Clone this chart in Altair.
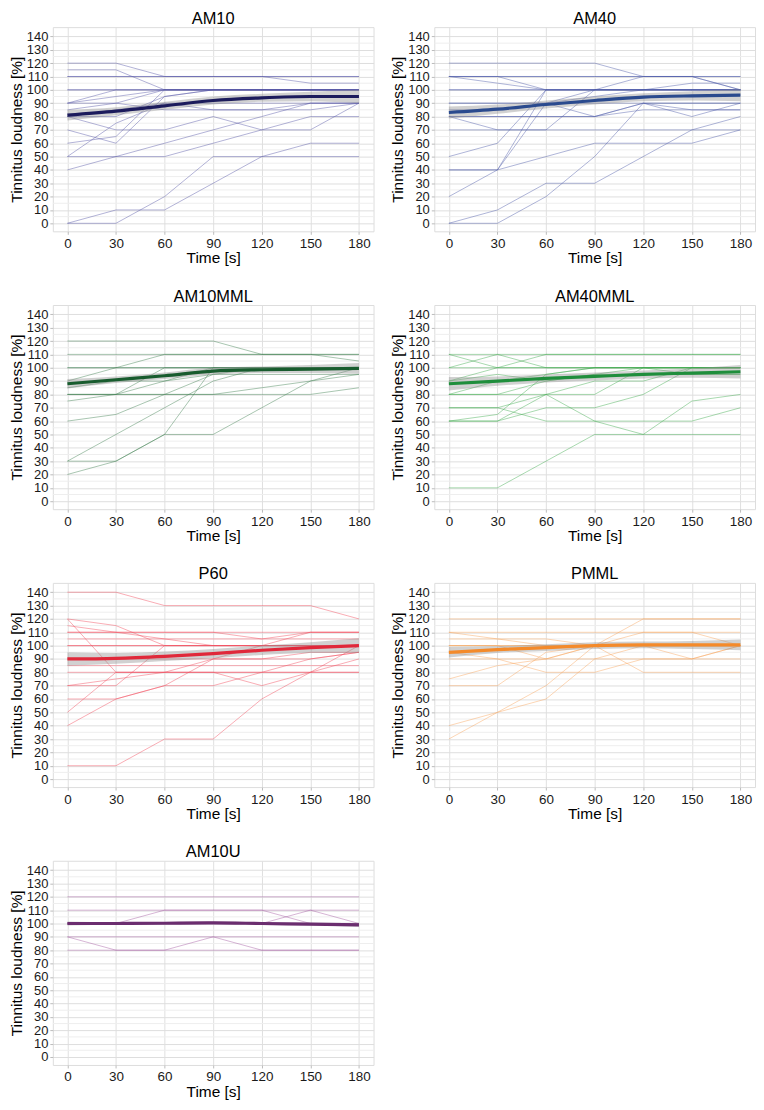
import altair as alt
import pandas as pd

times = [0, 30, 60, 90, 120, 150, 180]
y_ticks = list(range(0, 145, 10))
y_minor = list(range(5, 145, 10))

am10_subjects = [
    [120, 120, 110, 110, 110, 110, 110],
    [115, 115, 100, 100, 100, 100, 100],
    [110, 110, 110, 110, 110, 105, 105],
    [110, 110, 110, 110, 110, 110, 110],
    [100, 100, 100, 100, 100, 100, 100],
    [100, 100, 100, 100, 100, 100, 100],
    [90, 100, 100, 100, 100, 100, 100],
    [90, 95, 100, 100, 100, 100, 100],
    [85, 90, 100, 100, 100, 100, 100],
    [80, 80, 95, 100, 100, 100, 100],
    [80, 85, 90, 90, 90, 90, 90],
    [70, 60, 95, 100, 100, 100, 100],
    [60, 65, 100, 100, 100, 100, 100],
    [80, 70, 70, 80, 70, 70, 90],
    [90, 90, 85, 85, 85, 85, 90],
    [50, 75, 90, 85, 85, 90, 90],
    [40, 50, 60, 70, 80, 90, 90],
    [50, 50, 50, 60, 70, 80, 80],
    [0, 10, 10, 30, 50, 60, 60],
    [0, 0, 20, 50, 50, 50, 50],
]
am10_mean = [81, 84, 88, 92, 94, 95, 95]
am10_half = [4, 3, 3, 3, 3, 3.5, 5]

am40_subjects = [
    [120, 120, 120, 120, 110, 110, 100],
    [110, 110, 110, 110, 110, 110, 110],
    [110, 110, 110, 110, 110, 110, 110],
    [110, 105, 100, 100, 110, 110, 100],
    [110, 110, 100, 100, 100, 105, 105],
    [100, 100, 100, 100, 100, 100, 100],
    [100, 100, 100, 100, 100, 100, 100],
    [90, 90, 90, 90, 90, 90, 90],
    [90, 90, 90, 80, 90, 90, 90],
    [85, 85, 90, 95, 100, 100, 100],
    [80, 80, 80, 80, 90, 80, 90],
    [80, 70, 70, 100, 100, 100, 100],
    [70, 70, 70, 70, 70, 70, 70],
    [50, 60, 100, 100, 100, 100, 100],
    [40, 40, 100, 100, 100, 100, 100],
    [40, 40, 50, 60, 60, 60, 70],
    [20, 40, 90, 100, 100, 100, 100],
    [0, 10, 30, 30, 50, 70, 80],
    [0, 0, 20, 50, 90, 85, 85],
    [80, 80, 80, 80, 85, 85, 85],
]
am40_mean = [83, 85.5, 89, 92, 94.5, 95.5, 96]
am40_half = [4.5, 3.5, 3, 3, 3, 3.5, 4.5]

am10mml_subjects = [
    [120, 120, 120, 120, 110, 110, 105],
    [110, 110, 110, 110, 110, 110, 110],
    [90, 100, 110, 110, 110, 110, 110],
    [100, 100, 100, 100, 100, 100, 100],
    [100, 100, 100, 100, 100, 100, 100],
    [85, 90, 90, 100, 100, 100, 100],
    [80, 80, 100, 100, 100, 100, 100],
    [75, 80, 90, 95, 95, 95, 95],
    [80, 80, 80, 80, 80, 80, 85],
    [60, 65, 80, 95, 100, 100, 100],
    [30, 50, 70, 90, 100, 100, 100],
    [30, 30, 50, 50, 70, 90, 100],
    [20, 30, 50, 100, 100, 100, 100],
    [80, 80, 80, 80, 85, 90, 95],
]
am10mml_mean = [88, 91, 94, 97.5, 98.5, 99, 99.5]
am10mml_half = [3.5, 2.5, 2.5, 2.5, 2.5, 3, 4]

am40mml_subjects = [
    [110, 110, 110, 110, 110, 110, 110],
    [110, 100, 100, 100, 100, 100, 100],
    [90, 100, 110, 110, 110, 110, 110],
    [100, 110, 100, 100, 100, 100, 100],
    [100, 100, 100, 100, 100, 100, 100],
    [90, 95, 90, 95, 100, 95, 95],
    [80, 80, 80, 80, 100, 100, 100],
    [80, 90, 95, 100, 100, 100, 100],
    [70, 70, 60, 60, 60, 60, 70],
    [60, 60, 80, 60, 50, 75, 80],
    [60, 65, 95, 100, 100, 100, 100],
    [60, 60, 70, 70, 80, 100, 100],
    [70, 70, 80, 90, 90, 100, 100],
    [10, 10, 30, 50, 50, 50, 50],
    [80, 80, 90, 95, 95, 95, 95],
]
am40mml_mean = [88, 90, 92, 93.5, 95, 96, 97]
am40mml_half = [5, 3.5, 3, 3, 3, 3.5, 5]

p60_subjects = [
    [140, 140, 130, 130, 130, 130, 120],
    [120, 80, 80, 80, 80, 80, 80],
    [120, 115, 100, 100, 100, 100, 100],
    [115, 110, 105, 100, 100, 100, 100],
    [110, 110, 110, 110, 110, 110, 110],
    [105, 105, 105, 105, 105, 105, 105],
    [100, 100, 100, 100, 100, 100, 100],
    [100, 100, 100, 100, 100, 100, 100],
    [90, 90, 90, 90, 90, 90, 95],
    [85, 85, 85, 85, 85, 85, 85],
    [80, 80, 80, 80, 80, 80, 80],
    [70, 70, 100, 100, 100, 110, 110],
    [70, 75, 80, 80, 70, 80, 90],
    [60, 60, 70, 90, 100, 100, 100],
    [50, 80, 80, 90, 90, 95, 95],
    [40, 60, 70, 70, 80, 90, 95],
    [10, 10, 30, 30, 60, 80, 100],
    [110, 110, 110, 110, 105, 110, 110],
]
p60_mean = [90, 90.5, 92, 94, 96.5, 98.5, 100]
p60_half = [5, 4, 3.5, 3.5, 3.5, 4, 5.5]

pmml_subjects = [
    [120, 120, 120, 120, 120, 120, 120],
    [110, 105, 105, 100, 110, 110, 100],
    [110, 110, 110, 110, 110, 110, 110],
    [105, 105, 100, 100, 100, 100, 100],
    [100, 100, 100, 100, 100, 100, 100],
    [100, 100, 100, 100, 100, 100, 100],
    [90, 90, 90, 90, 90, 90, 90],
    [95, 90, 80, 80, 90, 90, 100],
    [75, 85, 90, 100, 100, 100, 100],
    [70, 70, 95, 100, 100, 90, 100],
    [40, 50, 70, 100, 120, 120, 120],
    [30, 50, 60, 90, 100, 100, 100],
    [100, 100, 90, 100, 80, 80, 80],
]
pmml_mean = [95, 97, 98.5, 100, 100.5, 100.5, 100.5]
pmml_half = [4, 2.5, 2.5, 2.5, 2.5, 3, 4]

am10u_subjects = [
    [120, 120, 120, 120, 120, 120, 120],
    [110, 110, 110, 110, 110, 110, 110],
    [100, 100, 110, 110, 110, 100, 100],
    [100, 100, 100, 100, 100, 110, 100],
    [100, 100, 100, 100, 100, 100, 100],
    [90, 90, 90, 90, 90, 90, 90],
    [90, 80, 80, 90, 80, 80, 80],
    [80, 80, 80, 80, 80, 80, 80],
]
am10u_mean = [100, 100, 100.2, 100.5, 100, 99.5, 99]
am10u_half = [1.5, 1, 1, 1, 1, 1, 1.5]

# name, mean colour, subject-line colour
panels = [
    ("AM10", "#1c1b5c", "#5656a6", am10_subjects, am10_mean, am10_half),
    ("AM40", "#2a4a8e", "#4c5aa8", am40_subjects, am40_mean, am40_half),
    ("AM10MML", "#185c2e", "#3f7f50", am10mml_subjects, am10mml_mean, am10mml_half),
    ("AM40MML", "#1f8e3c", "#3cab4c", am40mml_subjects, am40mml_mean, am40mml_half),
    ("P60", "#e0283a", "#f2485a", p60_subjects, p60_mean, p60_half),
    ("PMML", "#f48a2a", "#f8a45a", pmml_subjects, pmml_mean, pmml_half),
    ("AM10U", "#6b2d6f", "#a45aa0", am10u_subjects, am10u_mean, am10u_half),
]

FONT = "Liberation Sans"
W, H = 322, 205

x_scale = alt.Scale(domain=[-9, 189], nice=False, zero=False)
y_scale = alt.Scale(domain=[-6, 147], nice=False, zero=False)

x_axis = alt.Axis(values=times, title="Time [s]", grid=True, gridColor="#e0e0e0",
                  labelFontSize=13.5, titleFontSize=15.5, tickColor="#bbbbbb", tickSize=3,
                  labelPadding=2, titlePadding=1, domain=False, labelColor="#1a1a1a",
                  titleColor="#000000", titleFontWeight="normal", labelFont=FONT, titleFont=FONT)
y_axis = alt.Axis(values=y_ticks, title="Tinnitus loudness [%]", grid=True,
                  gridColor="#dedede", tickColor="#bbbbbb", tickSize=3,
                  labelOverlap=False, labelFontSize=13, titleFontSize=15.5,
                  labelPadding=2, titlePadding=2, domain=False, labelColor="#1a1a1a",
                  titleColor="#000000", titleFontWeight="normal", labelFont=FONT, titleFont=FONT)

minor_df = pd.DataFrame({"v": y_minor})


def make_panel(name, color, lcolor, subjects, mean, half):
    rows = []
    for i, subj in enumerate(subjects):
        for t, v in zip(times, subj):
            rows.append({"time": t, "value": v, "subject": i})
    sdf = pd.DataFrame(rows)
    mdf = pd.DataFrame({
        "time": times,
        "mean": mean,
        "lo": [m - h for m, h in zip(mean, half)],
        "hi": [m + h for m, h in zip(mean, half)],
    })
    minor = alt.Chart(minor_df).mark_rule(color="#eeeeee", strokeWidth=1).encode(
        y=alt.Y("v:Q", scale=y_scale, axis=y_axis),
    )
    lines = alt.Chart(sdf).mark_line(color=lcolor, strokeWidth=1, opacity=0.45).encode(
        x=alt.X("time:Q", scale=x_scale, axis=x_axis),
        y=alt.Y("value:Q", scale=y_scale, axis=y_axis),
        detail="subject:N",
    )
    band = alt.Chart(mdf).mark_area(color="#8c8c8c", opacity=0.4, interpolate="monotone").encode(
        x=alt.X("time:Q", scale=x_scale, axis=x_axis),
        y=alt.Y("lo:Q", scale=y_scale, axis=y_axis),
        y2="hi:Q",
    )
    mline = alt.Chart(mdf).mark_line(color=color, strokeWidth=3.2, interpolate="monotone").encode(
        x=alt.X("time:Q", scale=x_scale, axis=x_axis),
        y=alt.Y("mean:Q", scale=y_scale, axis=y_axis),
    )
    return alt.layer(minor, lines, band, mline).properties(
        width=W, height=H,
        title=alt.TitleParams(text=name, fontSize=16.5, font=FONT, fontWeight="normal",
                              color="#000000", offset=0),
    )


charts = [make_panel(*p) for p in panels]
rows = []
for i in range(0, len(charts), 2):
    rows.append(alt.hconcat(*charts[i:i + 2], spacing=15))

chart = alt.vconcat(*rows, spacing=21).properties(
    padding={"left": 0, "top": 0, "right": 0, "bottom": 0}
).configure_view(
    stroke="#c8c8c8", strokeWidth=1
).configure(background="#ffffff")

chart.save("out.html", embed_options={"renderer": "svg", "actions": False})
